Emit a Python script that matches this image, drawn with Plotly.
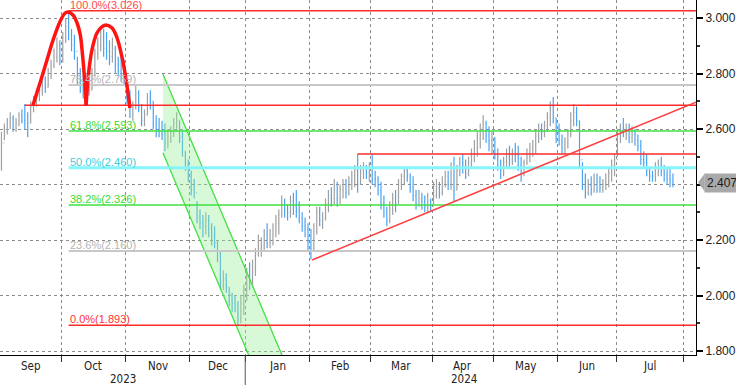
import pandas as pd
import plotly.graph_objects as go

# ---------------- data ----------------
holidays = ["2023-12-25", "2023-12-26", "2024-01-01", "2024-04-01", "2024-05-01"]

first_open = 2.47
close_ = [
    # Sep 2023
    2.55, 2.59, 2.62, 2.64, 2.61, 2.62, 2.65, 2.63, 2.62, 2.60, 2.68, 2.70, 2.72, 2.74, 2.78, 2.75, 2.80, 2.83, 2.86, 2.90, 2.85,
    # Oct
    2.93, 2.97, 2.94, 2.90, 2.88, 2.78, 2.75, 2.74, 2.76, 2.74, 2.80, 2.87, 2.90, 2.93, 2.89, 2.88, 2.86, 2.89, 2.83, 2.81, 2.80, 2.78,
    # Nov
    2.71, 2.67, 2.68, 2.73, 2.68, 2.63, 2.65, 2.71, 2.70, 2.62, 2.60, 2.59, 2.58, 2.55, 2.57, 2.59, 2.62, 2.63, 2.57, 2.52, 2.47, 2.44,
    # Dec
    2.38, 2.37, 2.28, 2.26, 2.25, 2.27, 2.24, 2.21, 2.19, 2.15, 2.05, 2.06, 2.03, 1.98, 1.97, 1.96, 1.92, 1.97, 2.02,
    # Jan 2024
    2.07, 2.05, 2.10, 2.15, 2.17, 2.18, 2.22, 2.19, 2.20, 2.24, 2.26, 2.29, 2.33, 2.31, 2.30, 2.34, 2.32, 2.30, 2.28, 2.25, 2.24, 2.19,
    # Feb
    2.17, 2.23, 2.30, 2.27, 2.28, 2.33, 2.36, 2.35, 2.40, 2.35, 2.38, 2.40, 2.37, 2.41, 2.43, 2.45, 2.40, 2.45, 2.46, 2.44, 2.46,
    # Mar
    2.42, 2.42, 2.38, 2.33, 2.30, 2.27, 2.31, 2.35, 2.33, 2.40, 2.43, 2.45, 2.43, 2.39, 2.36, 2.33, 2.35, 2.34, 2.32, 2.34, 2.32,
    # Apr
    2.36, 2.39, 2.37, 2.41, 2.43, 2.40, 2.46, 2.38, 2.45, 2.48, 2.47, 2.44, 2.48, 2.50, 2.53, 2.57, 2.60, 2.62, 2.58, 2.56, 2.57,
    # May
    2.51, 2.47, 2.45, 2.48, 2.50, 2.49, 2.52, 2.50, 2.47, 2.44, 2.48, 2.50, 2.53, 2.54, 2.58, 2.60, 2.59, 2.61, 2.64, 2.68, 2.64, 2.59,
    # Jun
    2.56, 2.53, 2.55, 2.58, 2.63, 2.66, 2.63, 2.49, 2.41, 2.37, 2.40, 2.38, 2.42, 2.41, 2.39, 2.40, 2.41, 2.44, 2.47, 2.49,
    # Jul
    2.58, 2.60, 2.59, 2.60, 2.57, 2.58, 2.56, 2.54, 2.49, 2.48, 2.45, 2.43, 2.43, 2.46, 2.47, 2.45, 2.44, 2.42, 2.41, 2.407,
]
high_ = [
    2.59, 2.62, 2.64, 2.66, 2.65, 2.64, 2.66, 2.67, 2.69, 2.66, 2.70, 2.72, 2.74, 2.76, 2.80, 2.79, 2.82, 2.85, 2.89, 2.93, 2.92,
    2.95, 3.00, 3.026, 2.96, 2.94, 2.86, 2.82, 2.79, 2.78, 2.80, 2.82, 2.89, 2.93, 2.96, 2.96, 2.95, 2.92, 2.93, 2.90, 2.86, 2.86, 2.85,
    2.77, 2.74, 2.70, 2.76, 2.74, 2.69, 2.67, 2.73, 2.74, 2.70, 2.65, 2.64, 2.63, 2.62, 2.60, 2.61, 2.64, 2.66, 2.63, 2.59, 2.52, 2.49,
    2.45, 2.42, 2.34, 2.31, 2.29, 2.30, 2.29, 2.26, 2.25, 2.20, 2.16, 2.09, 2.08, 2.03, 2.01, 2.00, 1.98, 2.00, 2.04,
    2.10, 2.12, 2.13, 2.17, 2.22, 2.21, 2.24, 2.26, 2.24, 2.26, 2.29, 2.31, 2.36, 2.35, 2.33, 2.36, 2.37, 2.38, 2.34, 2.30, 2.28, 2.26,
    2.24, 2.26, 2.32, 2.32, 2.30, 2.35, 2.38, 2.39, 2.42, 2.41, 2.40, 2.42, 2.42, 2.43, 2.45, 2.47, 2.51, 2.47, 2.48, 2.47, 2.48,
    2.51, 2.45, 2.43, 2.41, 2.36, 2.32, 2.34, 2.37, 2.38, 2.42, 2.44, 2.46, 2.46, 2.44, 2.43, 2.38, 2.38, 2.37, 2.36, 2.37, 2.35,
    2.41, 2.42, 2.41, 2.43, 2.45, 2.45, 2.48, 2.50, 2.47, 2.50, 2.51, 2.49, 2.50, 2.53, 2.56, 2.59, 2.62, 2.65, 2.63, 2.61, 2.59,
    2.57, 2.53, 2.49, 2.50, 2.53, 2.54, 2.53, 2.55, 2.54, 2.50, 2.49, 2.53, 2.55, 2.56, 2.60, 2.62, 2.62, 2.63, 2.66, 2.70, 2.715, 2.64,
    2.62, 2.58, 2.57, 2.60, 2.66, 2.69, 2.68, 2.63, 2.48, 2.44, 2.42, 2.43, 2.44, 2.44, 2.43, 2.42, 2.44, 2.46, 2.49, 2.51,
    2.60, 2.62, 2.64, 2.62, 2.62, 2.61, 2.60, 2.58, 2.56, 2.52, 2.51, 2.46, 2.45, 2.48, 2.49, 2.50, 2.47, 2.46, 2.46, 2.44,
]
low_ = [
    2.45, 2.56, 2.58, 2.60, 2.59, 2.59, 2.61, 2.62, 2.60, 2.57, 2.62, 2.66, 2.68, 2.70, 2.72, 2.73, 2.75, 2.78, 2.82, 2.84, 2.83,
    2.84, 2.91, 2.92, 2.88, 2.85, 2.76, 2.73, 2.71, 2.70, 2.72, 2.74, 2.79, 2.85, 2.88, 2.86, 2.85, 2.83, 2.84, 2.80, 2.79, 2.77, 2.76,
    2.69, 2.64, 2.63, 2.67, 2.66, 2.61, 2.61, 2.65, 2.67, 2.60, 2.57, 2.57, 2.56, 2.52, 2.53, 2.55, 2.57, 2.59, 2.55, 2.50, 2.45, 2.41,
    2.36, 2.35, 2.26, 2.24, 2.21, 2.22, 2.21, 2.18, 2.17, 2.12, 2.02, 2.02, 2.01, 1.96, 1.94, 1.94, 1.893, 1.90, 1.93,
    1.98, 2.02, 2.03, 2.07, 2.14, 2.14, 2.16, 2.17, 2.17, 2.18, 2.21, 2.22, 2.28, 2.28, 2.27, 2.28, 2.29, 2.28, 2.26, 2.23, 2.21, 2.16,
    2.13, 2.16, 2.22, 2.25, 2.24, 2.27, 2.30, 2.32, 2.33, 2.32, 2.33, 2.35, 2.35, 2.36, 2.38, 2.39, 2.37, 2.40, 2.42, 2.42, 2.41,
    2.40, 2.39, 2.36, 2.31, 2.28, 2.25, 2.26, 2.29, 2.30, 2.33, 2.38, 2.40, 2.41, 2.37, 2.34, 2.31, 2.32, 2.31, 2.30, 2.30, 2.30,
    2.33, 2.35, 2.35, 2.36, 2.39, 2.38, 2.38, 2.34, 2.38, 2.43, 2.44, 2.42, 2.43, 2.46, 2.48, 2.50, 2.53, 2.56, 2.55, 2.52, 2.51,
    2.49, 2.45, 2.42, 2.43, 2.46, 2.46, 2.47, 2.48, 2.45, 2.41, 2.43, 2.47, 2.48, 2.50, 2.51, 2.55, 2.56, 2.57, 2.59, 2.61, 2.62, 2.55,
    2.54, 2.51, 2.51, 2.53, 2.57, 2.61, 2.61, 2.46, 2.38, 2.35, 2.36, 2.36, 2.37, 2.37, 2.37, 2.37, 2.38, 2.39, 2.41, 2.43,
    2.50, 2.55, 2.57, 2.56, 2.55, 2.55, 2.54, 2.52, 2.47, 2.46, 2.43, 2.41, 2.41, 2.41, 2.43, 2.43, 2.41, 2.40, 2.39, 2.39,
]

# Fibonacci retracement labels / levels
fib_pct = ["100.0%", "76.4%", "61.8%", "50.0%", "38.2%", "23.6%", "0.0%"]
fib_val = [3.026, 2.759, 2.593, 2.460, 2.326, 2.160, 1.893]
fib_line = ["#ff2b2b", "#c8c8c8", "#3ee03e", "#86f4f8", "#3ee03e", "#c8c8c8", "#ff2b2b"]
fib_text = ["#ff4a4a", "#b4b4b4", "#33dd33", "#3ccfdc", "#33dd33", "#b4b4b4", "#ff3030"]
fib_width = [1.5, 2, 1.5, 3, 1.5, 2, 1.5]
fib_start = 23            # bar index of the top (4 Oct 2023)

# other drawn levels: (value, start bar index)
red_levels = [(2.686, 8), (2.510, 122)]
trend_pts = [(106.4, 2.128), (237.9, 2.697)]
channel_upper = [(55.3, 2.798), (97.5, 1.75)]
channel_lower = [(55.3, 2.514), (86.1, 1.75)]
arc1 = [(10.8, 2.686), (13.2, 2.766), (15.6, 2.849), (17.7, 2.921), (20.0, 2.986), (21.8, 3.018),
        (22.8, 3.022), (24.5, 3.011), (25.9, 2.982), (27.0, 2.939), (27.6, 2.885), (28.3, 2.802), (29.0, 2.686)]
arc2 = [(29.0, 2.686), (29.7, 2.787), (31.0, 2.885), (32.7, 2.946), (34.4, 2.968), (35.8, 2.975),
        (37.9, 2.964), (39.6, 2.928), (41.3, 2.859), (42.7, 2.777), (44.0, 2.676)]

y_ticks = [1.8, 2.0, 2.2, 2.4, 2.6, 2.8, 3.0]
y_range = [1.7856, 3.0649]
x_range = [-0.5, 237.9]

# ---------------- build ----------------
cal = pd.bdate_range("2023-09-01", "2024-08-09")
cal = cal[~cal.isin(pd.to_datetime(holidays))]
n = len(close_)
assert n == len(high_) == len(low_)
dates = cal[:n]
xs = list(range(n))
opens = [first_open] + close_[:-1]

bounds = [i for i in range(len(cal)) if i == 0 or cal[i].month != cal[i - 1].month]

fig = go.Figure()

# channel fill
fig.add_trace(go.Scatter(
    x=[channel_upper[0][0], channel_upper[1][0], channel_lower[1][0], channel_lower[0][0]],
    y=[channel_upper[0][1], channel_upper[1][1], channel_lower[1][1], channel_lower[0][1]],
    fill="toself", fillcolor="rgba(150,240,150,0.38)", line=dict(width=0),
    mode="lines", hoverinfo="skip"))

fig.add_trace(go.Ohlc(
    x=xs, open=opens, high=high_, low=low_, close=close_,
    increasing=dict(line=dict(color="#a0a0a0", width=1.2)),
    decreasing=dict(line=dict(color="#4aa3f2", width=1.2)),
    tickwidth=0.25, hoverinfo="skip"))

for seg in (channel_upper, channel_lower):
    fig.add_trace(go.Scatter(x=[p[0] for p in seg], y=[p[1] for p in seg], mode="lines",
                             line=dict(color="#44e044", width=1.3), hoverinfo="skip"))

for v, c, w in zip(fib_val, fib_line, fib_width):
    fig.add_trace(go.Scatter(x=[fib_start, x_range[1]], y=[v, v], mode="lines",
                             line=dict(color=c, width=w), hoverinfo="skip"))

for v, s in red_levels:
    fig.add_trace(go.Scatter(x=[s, x_range[1]], y=[v, v], mode="lines",
                             line=dict(color="#ff2b2b", width=1.5), hoverinfo="skip"))

fig.add_trace(go.Scatter(x=[p[0] for p in trend_pts], y=[p[1] for p in trend_pts], mode="lines",
                         line=dict(color="#ff4040", width=1.5), hoverinfo="skip"))

for arc in (arc1, arc2):
    fig.add_trace(go.Scatter(x=[p[0] for p in arc], y=[p[1] for p in arc], mode="lines",
                             line=dict(color="#ff1414", width=3.5, shape="spline"), hoverinfo="skip"))

ann = []
for p, v, c in zip(fib_pct, fib_val, fib_text):
    ann.append(dict(x=fib_start, y=v, xref="x", yref="y", xanchor="left", yanchor="bottom",
                    text=f"{p}({v:.3f})", showarrow=False, borderpad=0, yshift=-1,
                    font=dict(family="Liberation Sans, Arial, sans-serif", size=11, color=c)))

# month labels and years
ylab = {}
for k in range(len(bounds) - 1):
    a, b = bounds[k], bounds[k + 1]
    d = cal[a]
    ann.append(dict(x=(a + b) / 2 - 0.5, y=0, xref="x", yref="paper", yshift=-11, yanchor="middle",
                    text=d.strftime("%b"), showarrow=False,
                    font=dict(family="Liberation Sans Narrow, DejaVu Sans Condensed, sans-serif",
                              size=11.5, color="#222")))
    ylab.setdefault(d.year, [a, b])
    ylab[d.year][1] = b
for yr, (a, b) in ylab.items():
    ann.append(dict(x=(a + b) / 2 - 0.5, y=0, xref="x", yref="paper", yshift=-24, yanchor="middle",
                    text=str(yr), showarrow=False,
                    font=dict(family="Liberation Sans Narrow, DejaVu Sans Condensed, sans-serif",
                              size=11.5, color="#222")))

last = close_[-1]
ann.append(dict(x=1, y=last, xref="paper", yref="y", xanchor="left", xshift=8, yanchor="middle",
                text=f"{last:.3f}", showarrow=False, bgcolor="#a9a9a9", borderpad=2,
                font=dict(family="Liberation Sans, Arial, sans-serif", size=12, color="#1a1a1a")))

plot_h = 355
yp = (last - y_range[0]) / (y_range[1] - y_range[0])
shapes = [
    dict(type="path", xref="paper", yref="paper",
         path=f"M 1.003 {yp} L 1.0125 {yp + 9 / plot_h} L 1.0125 {yp - 9 / plot_h} Z",
         fillcolor="#a9a9a9", line=dict(width=0)),
]
year_sep = [b for b in bounds if cal[b].month == 1][0]
shapes.append(dict(type="line", xref="x", yref="paper", x0=year_sep - 0.5, x1=year_sep - 0.5,
                   y0=0, y1=-30 / plot_h, line=dict(color="#555", width=1)))

fig.update_layout(
    width=736, height=385, margin=dict(l=0, r=40, t=0, b=30),
    paper_bgcolor="white", plot_bgcolor="white", showlegend=False,
    annotations=ann, shapes=shapes,
    xaxis=dict(range=x_range, rangeslider=dict(visible=False),
               tickvals=[b - 0.5 for b in bounds[1:]], ticktext=["" for _ in bounds[1:]],
               ticks="outside", ticklen=6, tickcolor="#333",
               showgrid=True, gridcolor="#8c8c8c", griddash="dot", gridwidth=1,
               showline=True, linecolor="#000", linewidth=1, zeroline=False),
    yaxis=dict(side="right", range=y_range, tickvals=y_ticks,
               ticktext=["" if abs(t - 2.4) < 1e-9 else f"{t:.3f}" for t in y_ticks],
               ticks="outside", ticklen=6, tickwidth=2, tickcolor="#000",
               minor=dict(dtick=0.1, tick0=1.8, ticks="outside", ticklen=3, tickcolor="#333", showgrid=False),
               showgrid=True, gridcolor="#8c8c8c", griddash="dot", gridwidth=1,
               showline=True, linecolor="#000", linewidth=1, zeroline=False,
               tickfont=dict(family="Liberation Sans, Arial, sans-serif", size=12, color="#222")),
)

fig.write_html("out.html")
